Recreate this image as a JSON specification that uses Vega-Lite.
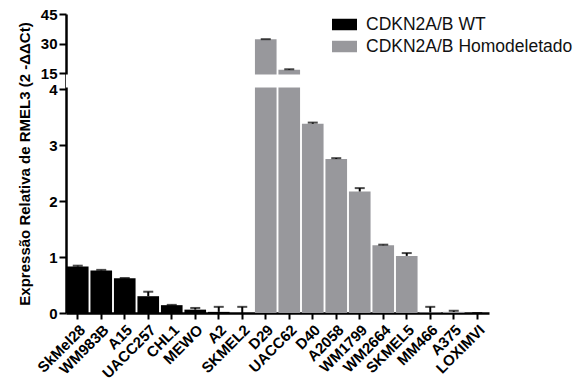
{
  "$schema": "https://vega.github.io/schema/vega-lite/v6.json",
  "background": "white",
  "padding": {"left": 17, "top": 7, "right": 5, "bottom": 5},
  "width": 423,
  "height": 299,
  "config": {
    "view": {"stroke": null},
    "font": "Liberation Sans",
    "axis": {
      "grid": false,
      "domainColor": "black",
      "domainWidth": 2.5,
      "tickColor": "black",
      "tickWidth": 2,
      "tickSize": 7,
      "labelColor": "black",
      "labelFont": "Liberation Sans",
      "labelFontWeight": "bold",
      "labelFontSize": 15,
      "labelOverlap": false,
      "titleColor": "black",
      "titleFont": "Liberation Sans",
      "titleFontWeight": "bold",
      "titleFontSize": 15
    }
  },
  "datasets": {
    "cells": [
      {"cell": "SkMel28", "group": "CDKN2A/B WT", "value": 0.83, "upper": 0.845},
      {"cell": "WM983B", "group": "CDKN2A/B WT", "value": 0.76, "upper": 0.77},
      {"cell": "A15", "group": "CDKN2A/B WT", "value": 0.62, "upper": 0.625},
      {"cell": "UACC257", "group": "CDKN2A/B WT", "value": 0.30, "upper": 0.38},
      {"cell": "CHL1", "group": "CDKN2A/B WT", "value": 0.14, "upper": 0.145},
      {"cell": "MEWO", "group": "CDKN2A/B WT", "value": 0.06, "upper": 0.09},
      {"cell": "A2", "group": "CDKN2A/B WT", "value": 0.02, "upper": 0.11},
      {"cell": "SKMEL2", "group": "CDKN2A/B WT", "value": 0.0, "upper": 0.11},
      {"cell": "D29", "group": "CDKN2A/B Homodeletado", "value": 32.2, "upper": 32.2},
      {"cell": "UACC62", "group": "CDKN2A/B Homodeletado", "value": 16.6, "upper": 16.9},
      {"cell": "D40", "group": "CDKN2A/B Homodeletado", "value": 3.38, "upper": 3.4},
      {"cell": "A2058", "group": "CDKN2A/B Homodeletado", "value": 2.75, "upper": 2.765},
      {"cell": "WM1799", "group": "CDKN2A/B Homodeletado", "value": 2.17, "upper": 2.23},
      {"cell": "WM2664", "group": "CDKN2A/B Homodeletado", "value": 1.21, "upper": 1.22},
      {"cell": "SKMEL5", "group": "CDKN2A/B Homodeletado", "value": 1.02, "upper": 1.07},
      {"cell": "MM466", "group": "CDKN2A/B Homodeletado", "value": 0.01, "upper": 0.11},
      {"cell": "A375", "group": "CDKN2A/B Homodeletado", "value": 0.02, "upper": 0.04},
      {"cell": "LOXIMVI", "group": "CDKN2A/B Homodeletado", "value": 0.0, "upper": 0.0}
    ],
    "gap": [{"lo": 4, "hi": 15}]
  },
  "layer": [
    {
      "data": {"name": "cells"},
      "mark": {"type": "bar"},
      "encoding": {
        "x": {"field": "cell", "type": "nominal", "sort": null,
              "scale": {"paddingInner": 0.08, "paddingOuter": 0.04},
              "axis": {"title": null, "labelAngle": -45, "labelFontSize": 15, "tickSize": 6, "labelPadding": 3}},
        "y": {"field": "value", "type": "quantitative",
              "scale": {"domain": [0, 4, 15, 45], "range": [299, 75, 59, 0], "nice": false, "zero": false},
              "axis": {"values": [0, 1, 2, 3, 4, 15, 30, 45], "format": "d", "title": "Expressão Relativa de RMEL3 (2 -ΔΔCt)", "titlePadding": 8}},
        "color": {"field": "group", "type": "nominal",
                  "scale": {"domain": ["CDKN2A/B WT", "CDKN2A/B Homodeletado"], "range": ["#000000", "#98989c"]},
                  "legend": {"title": null, "orient": "none", "legendX": 266, "legendY": -2,
                             "symbolType": "M-1,-0.46H1V0.46H-1Z", "symbolSize": 625,
                             "symbolStrokeWidth": 0, "symbolOpacity": 1, "labelLimit": 0,
                             "labelFont": "Liberation Sans", "labelFontSize": 17.5, "labelColor": "#111",
                             "rowPadding": 1, "labelOffset": 9}}
      }
    },
    {
      "data": {"name": "cells"},
      "mark": {"type": "rule", "color": "black", "strokeWidth": 2},
      "encoding": {
        "x": {"field": "cell", "type": "nominal", "sort": null},
        "y": {"field": "value", "type": "quantitative",
              "axis": {"values": [0, 1, 2, 3, 4, 15, 30, 45], "format": "d", "title": "Expressão Relativa de RMEL3 (2 -ΔΔCt)", "titlePadding": 8}},
        "y2": {"field": "upper"}
      }
    },
    {
      "data": {"name": "cells"},
      "mark": {"type": "tick", "color": "black", "thickness": 2, "size": 10},
      "encoding": {
        "x": {"field": "cell", "type": "nominal", "sort": null},
        "y": {"field": "upper", "type": "quantitative",
              "axis": {"values": [0, 1, 2, 3, 4, 15, 30, 45], "format": "d", "title": "Expressão Relativa de RMEL3 (2 -ΔΔCt)", "titlePadding": 8}}
      }
    },
    {
      "data": {"name": "gap"},
      "mark": {"type": "rect", "color": "white", "yOffset": -1.5, "y2Offset": 1.5, "xOffset": -3},
      "encoding": {
        "y": {"field": "lo", "type": "quantitative",
              "axis": {"values": [0, 1, 2, 3, 4, 15, 30, 45], "format": "d", "title": "Expressão Relativa de RMEL3 (2 -ΔΔCt)", "titlePadding": 8}},
        "y2": {"field": "hi"}
      }
    }
  ]
}
